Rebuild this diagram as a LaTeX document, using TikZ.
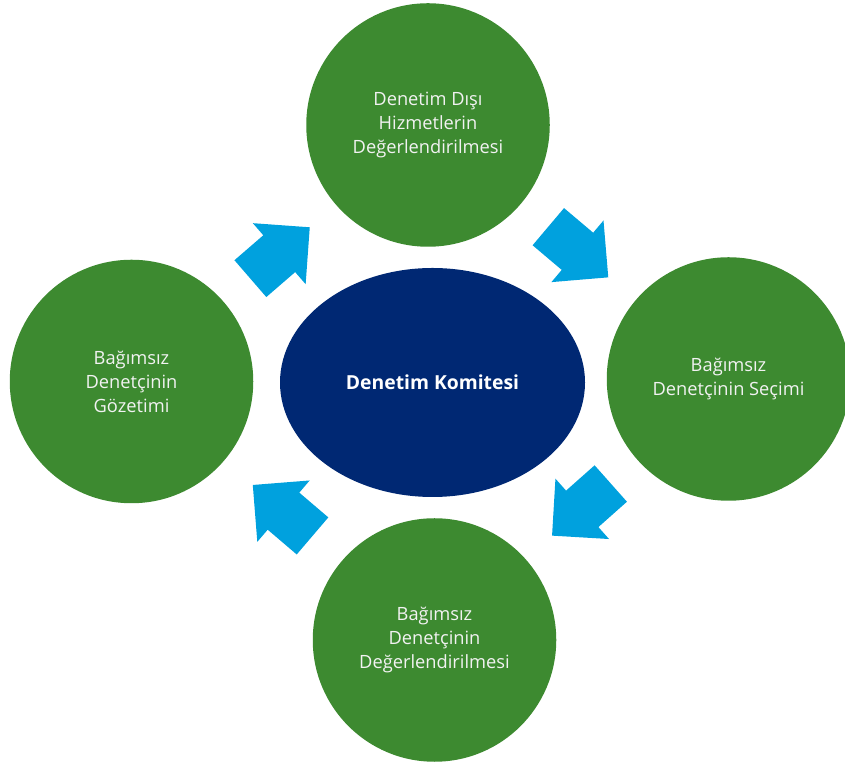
\documentclass[tikz,border=0pt]{standalone}
\usepackage{fontspec}
\setmainfont{Open Sans}
\usepackage{tikz}
\usetikzlibrary{
calc,
shapes,
shapes.geometric,
shapes.arrows,
}

\definecolor{yesil}{RGB}{61,138,48}
\definecolor{lacivert}{RGB}{0,40,115}
\definecolor{oklar}{RGB}{0,161,222}
\definecolor{yazi}{RGB}{242,242,242}

\tikzset{
	daire/.style={circle, fill=yesil, minimum size=4.87cm, inner sep=0pt, text=yazi, align=center, font=\fontsize{10.4}{13.7}\selectfont},
	komiteelips/.style={ellipse, fill=lacivert, minimum width=6.1cm, minimum height=4.58cm, inner sep=0pt, text=white, font=\fontsize{11}{13.7}\selectfont\bfseries},
	akis/.style={single arrow, fill=oklar, draw=none, minimum height=1.57cm, single arrow head extend=0.32cm, single arrow tip angle=90, inner xsep=0pt, inner ysep=0.48cm, sloped, allow upside down, anchor=tail, pos=0.235},
}

\begin{document}
\begin{tikzpicture}
			\useasboundingbox (0,0) rectangle (16.9,15.34);

			% Define nodes
			\node[daire] (dis) at (8.56,12.84) {Denetim Dışı\\Hizmetlerin\\Değerlendirilmesi};
			\node[daire] (secim) at (14.57,7.76) {Bağımsız\\Denetçinin Seçimi};
			\node[daire] (degerlendirme) at (8.69,2.54) {Bağımsız\\Denetçinin\\Değerlendirilmesi};
			\node[daire] (gozetim) at (2.63,7.71) {Bağımsız\\Denetçinin\\Gözetimi};
			\node[komiteelips] (komite) at (8.65,7.69) {Denetim Komitesi};

			% Draw arrows between the circles
			\path (gozetim) -- node[akis] {} (dis);
			\path (dis) -- node[akis] {} (secim);
			\path (secim) -- node[akis] {} (degerlendirme);
			\path (degerlendirme) -- node[akis, pos=0.246] {} (gozetim);

		\end{tikzpicture}
\end{document}
